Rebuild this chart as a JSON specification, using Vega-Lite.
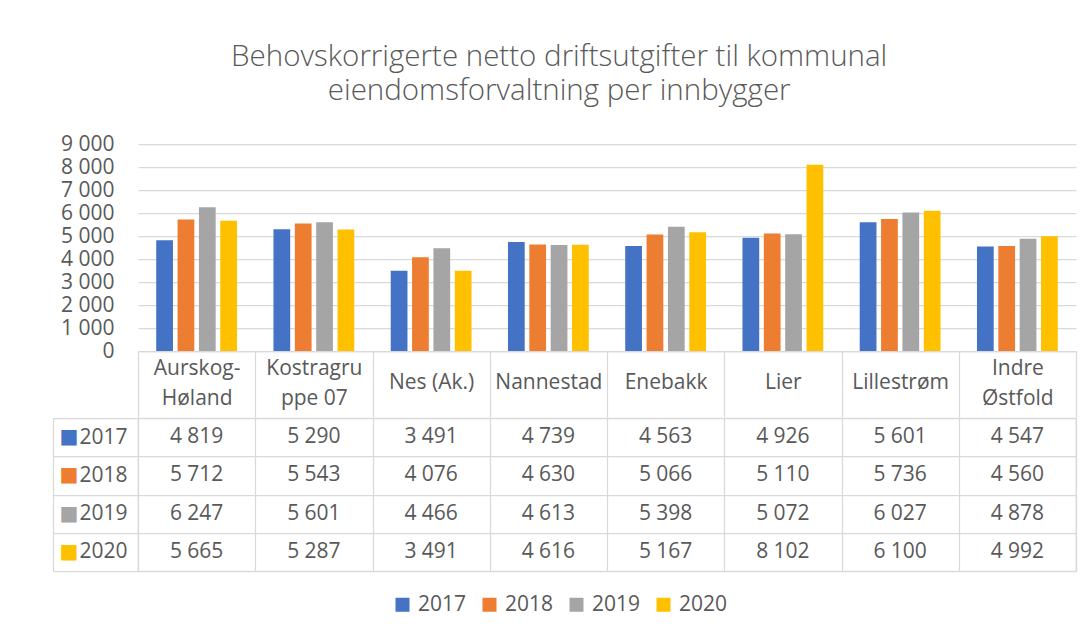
{
  "$schema": "https://vega.github.io/schema/vega-lite/v6.json",
  "padding": {"left": 51, "top": 41, "right": 14, "bottom": 10},
  "background": "white",
  "spacing": -16,
  "config": {
    "font": "Open Sans",
    "view": {"stroke": null},
    "locale": {"number": {"decimal": ",", "thousands": " ", "grouping": [3], "currency": ["", " kr"]}},
    "axis": {"labelFont": "Open Sans", "labelFontSize": 21, "labelColor": "#595959"},
    "legend": {"labelFont": "Open Sans"}
  },
  "title": {
    "text": ["Behovskorrigerte netto driftsutgifter til kommunal", "eiendomsforvaltning per innbygger"],
    "font": "Open Sans",
    "fontSize": 29.5,
    "fontWeight": 300,
    "color": "#595959",
    "lineHeight": 34,
    "anchor": "middle",
    "dx": -5,
    "offset": 27
  },
  "datasets": {
    "d": [
      {"cat": "Aurskog-Høland", "year": "2017", "value": 4819},
      {"cat": "Aurskog-Høland", "year": "2018", "value": 5712},
      {"cat": "Aurskog-Høland", "year": "2019", "value": 6247},
      {"cat": "Aurskog-Høland", "year": "2020", "value": 5665},
      {"cat": "Kostragruppe 07", "year": "2017", "value": 5290},
      {"cat": "Kostragruppe 07", "year": "2018", "value": 5543},
      {"cat": "Kostragruppe 07", "year": "2019", "value": 5601},
      {"cat": "Kostragruppe 07", "year": "2020", "value": 5287},
      {"cat": "Nes (Ak.)", "year": "2017", "value": 3491},
      {"cat": "Nes (Ak.)", "year": "2018", "value": 4076},
      {"cat": "Nes (Ak.)", "year": "2019", "value": 4466},
      {"cat": "Nes (Ak.)", "year": "2020", "value": 3491},
      {"cat": "Nannestad", "year": "2017", "value": 4739},
      {"cat": "Nannestad", "year": "2018", "value": 4630},
      {"cat": "Nannestad", "year": "2019", "value": 4613},
      {"cat": "Nannestad", "year": "2020", "value": 4616},
      {"cat": "Enebakk", "year": "2017", "value": 4563},
      {"cat": "Enebakk", "year": "2018", "value": 5066},
      {"cat": "Enebakk", "year": "2019", "value": 5398},
      {"cat": "Enebakk", "year": "2020", "value": 5167},
      {"cat": "Lier", "year": "2017", "value": 4926},
      {"cat": "Lier", "year": "2018", "value": 5110},
      {"cat": "Lier", "year": "2019", "value": 5072},
      {"cat": "Lier", "year": "2020", "value": 8102},
      {"cat": "Lillestrøm", "year": "2017", "value": 5601},
      {"cat": "Lillestrøm", "year": "2018", "value": 5736},
      {"cat": "Lillestrøm", "year": "2019", "value": 6027},
      {"cat": "Lillestrøm", "year": "2020", "value": 6100},
      {"cat": "Indre Østfold", "year": "2017", "value": 4547},
      {"cat": "Indre Østfold", "year": "2018", "value": 4560},
      {"cat": "Indre Østfold", "year": "2019", "value": 4878},
      {"cat": "Indre Østfold", "year": "2020", "value": 4992}
    ]
  },
  "vconcat": [
    {
      "width": 938,
      "height": 207,
      "data": {"name": "d"},
      "mark": {"type": "bar"},
      "encoding": {
        "x": {
          "field": "cat", "type": "nominal",
          "sort": ["Aurskog-Høland", "Kostragruppe 07", "Nes (Ak.)", "Nannestad", "Enebakk", "Lier", "Lillestrøm", "Indre Østfold"],
          "scale": {"paddingInner": 0, "paddingOuter": 0},
          "axis": {
            "title": null, "orient": "bottom",
            "domainColor": "#d9d9d9", "domainWidth": 1.25,
            "ticks": true, "tickBand": "extent", "tickSize": 66, "tickColor": "#d9d9d9", "tickWidth": 1.25,
            "labelAngle": 0, "labelBaseline": "middle", "labelLineHeight": 30,
            "labelPadding": {"condition": {"test": "datum.value == 'Aurskog-Høland' || datum.value == 'Kostragruppe 07' || datum.value == 'Indre Østfold'", "value": -49}, "value": -35},
            "labelLimit": 0, "labelOverlap": false, "labelFlush": false,
            "labelExpr": "datum.value == 'Aurskog-Høland' ? ['Aurskog-', 'Høland'] : datum.value == 'Kostragruppe 07' ? ['Kostragru', 'ppe 07'] : datum.value == 'Indre Østfold' ? ['Indre', 'Østfold'] : datum.value"
          }
        },
        "xOffset": {"field": "year", "type": "nominal", "scale": {"paddingInner": 0.216, "paddingOuter": 0.853}},
        "y": {
          "field": "value", "type": "quantitative",
          "scale": {"domain": [0, 9000]},
          "axis": {
            "title": null, "values": [0, 1000, 2000, 3000, 4000, 5000, 6000, 7000, 8000, 9000],
            "format": ",.0f", "domain": false, "ticks": false,
            "grid": true, "gridColor": "#d9d9d9", "gridWidth": 1.25,
            "labelPadding": 24
          }
        },
        "color": {
          "field": "year", "type": "nominal",
          "scale": {"domain": ["2017", "2018", "2019", "2020"], "range": ["#4472C4", "#ED7D31", "#A5A5A5", "#FFC000"]},
          "legend": {
            "title": null, "orient": "none", "legendX": 254, "legendY": 450,
            "direction": "horizontal", "symbolType": "square", "symbolSize": 196,
            "symbolStrokeWidth": 0, "labelFontSize": 21, "labelColor": "#595959",
            "labelOffset": 5, "columnPadding": 12
          }
        }
      }
    },
    {
      "width": 938,
      "height": 153,
      "data": {"name": "d"},
      "view": {"stroke": "#d9d9d9", "strokeWidth": 1.25},
      "encoding": {
        "x": {
          "field": "cat", "type": "nominal",
          "sort": ["Aurskog-Høland", "Kostragruppe 07", "Nes (Ak.)", "Nannestad", "Enebakk", "Lier", "Lillestrøm", "Indre Østfold"],
          "scale": {"type": "band", "paddingInner": 0, "paddingOuter": 0},
          "axis": {"title": null, "orient": "bottom", "labels": false, "ticks": false, "domain": false, "grid": true, "tickBand": "extent", "gridColor": "#d9d9d9", "gridWidth": 1.25}
        }
      },
      "layer": [
        {
          "mark": {"type": "text", "fontSize": 21, "color": "#595959", "font": "Open Sans", "baseline": "middle"},
          "encoding": {
            "y": {
              "field": "year", "type": "nominal",
              "scale": {"type": "band", "paddingInner": 0, "paddingOuter": 0},
              "axis": {
                "title": null, "orient": "left", "domain": false,
                "grid": true, "gridColor": "#d9d9d9", "gridWidth": 1.25, "tickBand": "extent",
                "ticks": true, "tickSize": 85, "tickColor": "#d9d9d9", "tickWidth": 1.25,
                "labelPadding": -74, "labelAlign": "right", "labelBaseline": "middle"
              }
            },
            "text": {"field": "value", "type": "quantitative", "format": ","}
          }
        },
        {
          "mark": {"type": "text", "opacity": 0},
          "encoding": {
            "y": {
              "field": "year", "type": "nominal",
              "axis": {
                "title": null, "orient": "left", "offset": 85,
                "domain": true, "domainColor": "#d9d9d9", "domainWidth": 1.25,
                "ticks": false, "grid": false,
                "labelExpr": "'■'", "labelFont": "DejaVu Sans", "labelFontSize": 20,
                "labelAlign": "left", "labelPadding": -6, "labelBaseline": "middle",
                "labelColor": {"condition": [
                  {"test": "datum.value == '2017'", "value": "#4472C4"},
                  {"test": "datum.value == '2018'", "value": "#ED7D31"},
                  {"test": "datum.value == '2019'", "value": "#A5A5A5"}
                ], "value": "#FFC000"}
              }
            },
            "text": {"value": ""}
          }
        }
      ],
      "resolve": {"axis": {"y": "independent"}}
    }
  ]
}
